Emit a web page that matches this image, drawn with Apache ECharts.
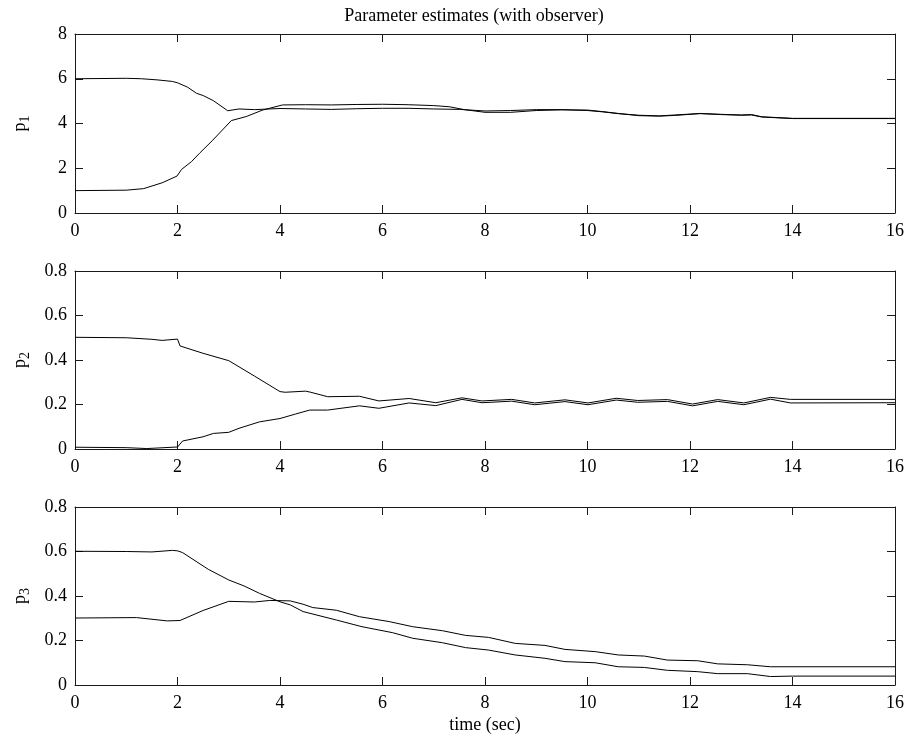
<!DOCTYPE html>
<html>
<head>
<meta charset="utf-8">
<script src="https://cdn.jsdelivr.net/npm/echarts@6/dist/echarts.min.js"></script>
<style>html,body{margin:0;padding:0;background:#fff;}#c{width:908px;height:738px;}</style>
</head>
<body>
<div id="c"></div>
<script>
// ---- data ----
const titleText = 'Parameter estimates (with observer)';
const xLabel = 'time (sec)';
const xTicks = [0, 2, 4, 6, 8, 10, 12, 14, 16];

// p1
const p1a_t = [0, 1.0, 1.3, 1.6, 1.9, 2.0, 2.2, 2.37, 2.5, 2.7, 2.98, 3.2, 3.5, 3.8, 4.0, 4.5, 5.0, 5.5, 6.0, 6.5, 7.0, 7.5, 8.0, 8.5, 9.0, 9.5, 10.0, 10.3, 10.6, 11.0, 11.4, 11.7, 12.0, 12.2, 12.6, 13.0, 13.2, 13.4, 14.0, 16];
const p1a_v = [6.0, 6.02, 6.0, 5.95, 5.88, 5.82, 5.62, 5.35, 5.25, 5.02, 4.57, 4.65, 4.62, 4.65, 4.67, 4.65, 4.63, 4.66, 4.68, 4.68, 4.65, 4.63, 4.56, 4.58, 4.62, 4.62, 4.58, 4.52, 4.44, 4.37, 4.34, 4.38, 4.42, 4.45, 4.41, 4.38, 4.4, 4.3, 4.23, 4.23];
const p1b_t = [0, 1.0, 1.34, 1.7, 1.99, 2.08, 2.27, 2.43, 2.69, 3.05, 3.34, 3.66, 4.05, 4.5, 5.0, 5.5, 6.0, 6.5, 7.0, 7.3, 7.6, 8.0, 8.5, 9.0, 9.5, 10.0, 10.3, 10.6, 11.0, 11.4, 11.7, 12.0, 12.2, 12.6, 13.0, 13.2, 13.4, 14.0, 16];
const p1b_v = [1.0, 1.02, 1.09, 1.35, 1.65, 1.95, 2.29, 2.67, 3.26, 4.13, 4.31, 4.6, 4.83, 4.84, 4.83, 4.85, 4.86, 4.84, 4.8, 4.75, 4.62, 4.5, 4.5, 4.58, 4.61, 4.6, 4.53, 4.45, 4.35, 4.33, 4.36, 4.41, 4.44, 4.4, 4.37, 4.38, 4.29, 4.22, 4.22];

// p2
const p2a_t = [0, 1.0, 1.5, 1.7, 2.0, 2.05, 2.5, 3.0, 3.5, 4.0, 4.1, 4.5, 4.6, 4.93, 5.55, 5.93, 6.52, 7.04, 7.55, 7.94, 8.52, 8.97, 9.56, 10.01, 10.56, 10.98, 11.56, 12.05, 12.54, 13.05, 13.57, 13.96, 16];
const p2a_v = [0.502, 0.5, 0.493, 0.488, 0.494, 0.463, 0.43, 0.397, 0.328, 0.258, 0.255, 0.26, 0.255, 0.235, 0.237, 0.216, 0.227, 0.208, 0.23, 0.216, 0.223, 0.207, 0.221, 0.207, 0.228, 0.218, 0.222, 0.202, 0.222, 0.207, 0.232, 0.223, 0.223];
const p2b_t = [0, 1.0, 1.4, 2.0, 2.1, 2.5, 2.7, 3.0, 3.2, 3.6, 4.0, 4.3, 4.58, 4.93, 5.55, 5.93, 6.52, 7.04, 7.55, 7.94, 8.52, 8.97, 9.56, 10.01, 10.56, 10.98, 11.56, 12.05, 12.54, 13.05, 13.57, 13.96, 16];
const p2b_v = [0.008, 0.006, 0.002, 0.009, 0.036, 0.055, 0.07, 0.075, 0.093, 0.122, 0.137, 0.157, 0.175, 0.175, 0.194, 0.183, 0.207, 0.195, 0.223, 0.208, 0.215, 0.199, 0.213, 0.199, 0.22, 0.21, 0.214, 0.194, 0.214, 0.199, 0.224, 0.207, 0.208];

// p3
const p3a_t = [0, 1.0, 1.5, 1.9, 2.0, 2.1, 2.6, 3.0, 3.3, 3.6, 4.0, 4.2, 4.45, 5.1, 5.6, 6.2, 6.59, 7.17, 7.62, 8.07, 8.59, 9.17, 9.56, 10.15, 10.6, 11.11, 11.56, 12.15, 12.54, 13.12, 13.57, 14.0, 16];
const p3a_v = [0.601, 0.6, 0.598, 0.605, 0.603, 0.595, 0.52, 0.472, 0.445, 0.412, 0.374, 0.36, 0.33, 0.292, 0.262, 0.235, 0.21, 0.19, 0.168, 0.157, 0.135, 0.12, 0.105, 0.1, 0.082, 0.079, 0.066, 0.06, 0.051, 0.051, 0.038, 0.04, 0.04];
const p3b_t = [0, 1.2, 1.8, 2.05, 2.5, 3.0, 3.5, 3.8, 4.2, 4.45, 4.64, 5.1, 5.55, 6.13, 6.59, 7.17, 7.62, 8.07, 8.59, 9.17, 9.56, 10.15, 10.6, 11.11, 11.56, 12.15, 12.54, 13.12, 13.57, 16];
const p3b_v = [0.301, 0.303, 0.288, 0.29, 0.335, 0.376, 0.373, 0.38, 0.378, 0.363, 0.348, 0.336, 0.307, 0.285, 0.262, 0.244, 0.223, 0.214, 0.187, 0.178, 0.16, 0.15, 0.135, 0.13, 0.112, 0.109, 0.095, 0.091, 0.082, 0.082];

const yNames = ['1', '2', '3'];
const yMax = [8, 0.8, 0.8];
const yStep = [2, 0.2, 0.2];

// ---- chart ----
const FONT = 'Liberation Serif';
const pairs = (t, v) => t.map((x, i) => [x, v[i]]);
const seriesData = [
  [pairs(p1a_t, p1a_v), pairs(p1b_t, p1b_v)],
  [pairs(p2a_t, p2a_v), pairs(p2b_t, p2b_v)],
  [pairs(p3a_t, p3a_v), pairs(p3b_t, p3b_v)]
];
const tops = [34, 271, 507];
const heights = [179, 178, 178];
const lineStyle = { color: '#1a1a1a', width: 1 };
const labelStyle = { color: '#000', fontFamily: FONT, fontSize: 18 };

const grids = [], xAxes = [], yAxes = [], series = [];
for (let i = 0; i < 3; i++) {
  grids.push({ left: 71, width: 824, top: tops[i], height: heights[i], show: false });
  xAxes.push({
    type: 'value', gridIndex: i, position: 'bottom', min: 0, max: 16, interval: 2,
    axisLine: { show: true, onZero: false, lineStyle },
    axisTick: { show: true, inside: true, length: 8, lineStyle },
    axisLabel: Object.assign({ margin: 9 }, labelStyle),
    splitLine: { show: false },
    name: i === 2 ? xLabel : '', nameLocation: 'middle', nameGap: 31,
    nameTextStyle: labelStyle
  });
  xAxes.push({
    type: 'value', gridIndex: i, position: 'top', min: 0, max: 16, interval: 2,
    axisLine: { show: true, onZero: false, lineStyle },
    axisTick: { show: true, inside: true, length: 8, lineStyle },
    axisLabel: { show: false }, splitLine: { show: false }
  });
  yAxes.push({
    type: 'value', gridIndex: i, position: 'left', min: 0, max: yMax[i], interval: yStep[i],
    axisLine: { show: true, onZero: false, lineStyle },
    axisTick: { show: true, inside: true, length: 8, lineStyle },
    axisLabel: Object.assign({ margin: 8 }, labelStyle),
    splitLine: { show: false },
    name: '{p|p}{s|' + yNames[i] + '}', nameLocation: 'middle', nameGap: 44, nameRotate: 90,
    nameTextStyle: {
      rich: {
        p: { fontFamily: FONT, fontSize: 18, color: '#000', lineHeight: 22 },
        s: { fontFamily: FONT, fontSize: 14, color: '#000', lineHeight: 22, padding: [10, 0, 0, 0] }
      }
    }
  });
  yAxes.push({
    type: 'value', gridIndex: i, position: 'right', min: 0, max: yMax[i], interval: yStep[i],
    axisLine: { show: true, onZero: false, lineStyle },
    axisTick: { show: true, inside: true, length: 8, lineStyle },
    axisLabel: { show: false }, splitLine: { show: false }
  });
  for (let k = 0; k < 2; k++) {
    series.push({
      type: 'line', xAxisIndex: 2 * i, yAxisIndex: 2 * i, data: seriesData[i][k],
      showSymbol: false, symbol: 'none', lineStyle: { color: '#000', width: 1 },
      silent: true, z: 3
    });
  }
}

const chart = echarts.init(document.getElementById('c'), null, { renderer: 'canvas' });
chart.setOption({
  animation: false,
  backgroundColor: '#fff',
  title: {
    text: titleText, left: 469, top: 2, textAlign: 'center',
    textStyle: { fontFamily: FONT, fontSize: 18, fontWeight: 'normal', color: '#000' }
  },
  grid: grids, xAxis: xAxes, yAxis: yAxes, series: series
});
</script>
</body>
</html>
